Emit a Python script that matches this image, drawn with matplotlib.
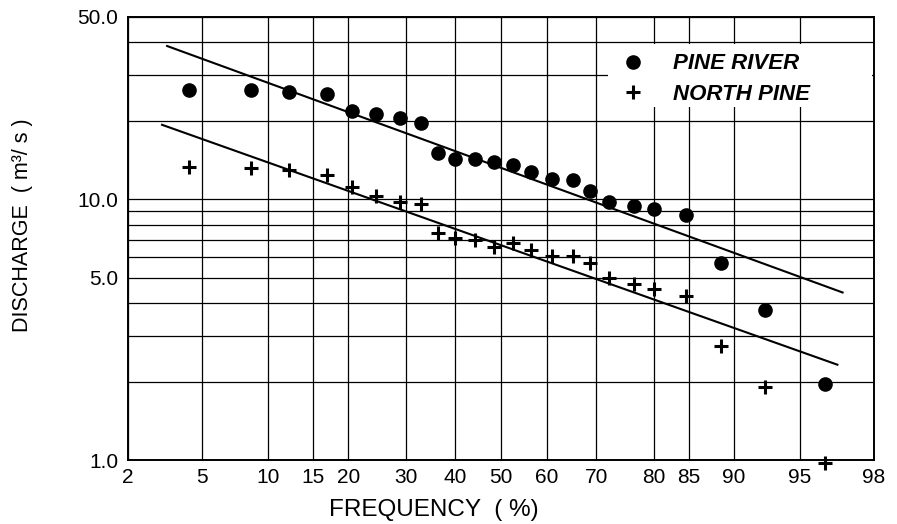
from statistics import NormalDist
import matplotlib
matplotlib.use("Agg")
from matplotlib import pyplot as plt
from matplotlib.lines import Line2D
from matplotlib.patches import Rectangle

plt.rcParams["font.family"] = ["Liberation Sans", "DejaVu Sans"]

# plotting positions (%) of the ranked flows
freq = [4.3, 8.4, 12.2, 16.9, 20.6, 24.5, 28.9, 32.9, 36.5, 40.1, 44.4, 48.5,
        52.6, 56.5, 61.0, 65.5, 68.7, 72.4, 76.8, 80.0, 84.6, 88.7, 92.7, 96.3]

pine_river = [26.3, 26.3, 25.8, 25.3, 21.8, 21.2, 20.5, 19.6, 15.0, 14.3, 14.3, 13.9,
              13.5, 12.7, 12.0, 11.9, 10.8, 9.8, 9.4, 9.15, 8.67, 5.72, 3.77, 1.96]

north_pine = [13.3, 13.2, 13.0, 12.4, 11.1, 10.3, 9.74, 9.57, 7.40, 7.08, 6.95, 6.54,
              6.77, 6.37, 6.04, 6.04, 5.72, 5.01, 4.75, 4.51, 4.27, 2.74, 1.91, 0.97]

# fitted lines, end points (frequency %, discharge)
pine_fit_freq = [3.3, 97.0]
pine_fit_q = [38.7, 4.39]
north_fit_freq = [3.1, 96.8]
north_fit_q = [19.3, 2.32]

freq_ticks = [2, 5, 10, 15, 20, 30, 40, 50, 60, 70, 80, 85, 90, 95, 98]
q_major = [1.0, 5.0, 10.0, 50.0]
q_minor = [2, 3, 4, 6, 7, 8, 9, 20, 30, 40]

nd = NormalDist()


def z(p):
    # probability paper: percent -> standard normal deviate
    return [nd.inv_cdf(v / 100.0) for v in p]


fig = plt.figure(figsize=(8.97, 5.24), dpi=100)
ax = fig.add_axes([128 / 897, 64 / 524, 746 / 897, 443 / 524])

ax.set_yscale("log")
ax.set_xlim(z([2])[0], z([98])[0])
ax.set_ylim(1.0, 50.0)

ax.set_xticks(z(freq_ticks))
ax.set_xticklabels([str(t) for t in freq_ticks])
ax.set_yticks(q_major)
ax.set_yticklabels(["%.1f" % q for q in q_major])
ax.set_yticks(q_minor, minor=True)
ax.set_yticklabels([], minor=True)
ax.tick_params(which="both", length=0, labelsize=15)
ax.tick_params(axis="x", pad=6)
ax.tick_params(axis="y", pad=7)

ax.grid(True, which="both", color="black", lw=0.9)
ax.set_axisbelow(True)
for s in ax.spines.values():
    s.set_linewidth(1.4)

# blank patch behind the key
ax.add_patch(Rectangle((0.6434, 0.797), 0.354, 0.142, transform=ax.transAxes,
                       fc="white", ec="none", zorder=1))

ax.plot(z(pine_fit_freq), pine_fit_q, color="black", lw=1.5, zorder=2)
ax.plot(z(north_fit_freq), north_fit_q, color="black", lw=1.5, zorder=2)

ax.plot(z(freq), pine_river, "o", color="black", ms=9.5, clip_on=False, zorder=3)
ax.plot(z(freq), north_pine, "+", color="black", ms=9.5, mew=2.2, clip_on=False, zorder=3)

ax.set_xlabel("FREQUENCY  ( %)", fontsize=17.5)
ax.xaxis.set_label_coords(0.41, -0.088)
ax.set_ylabel("DISCHARGE  ( m³/ s )", fontsize=15.5)
ax.yaxis.set_label_coords(-0.128, 0.53)

handles = [
    Line2D([], [], ls="none", marker="o", color="black", ms=9.5),
    Line2D([], [], ls="none", marker="+", color="black", ms=9.5, mew=2.2),
]
leg = ax.legend(handles, ["PINE RIVER", "NORTH PINE"], loc="center left",
                bbox_to_anchor=(0.6617, 0.860), borderaxespad=0, borderpad=0,
                frameon=False, handlelength=1.0, handletextpad=1.3,
                labelspacing=0.42,
                prop={"weight": "bold", "style": "italic", "size": 16})
leg.set_zorder(4)

plt.savefig("out.png", dpi=100)
